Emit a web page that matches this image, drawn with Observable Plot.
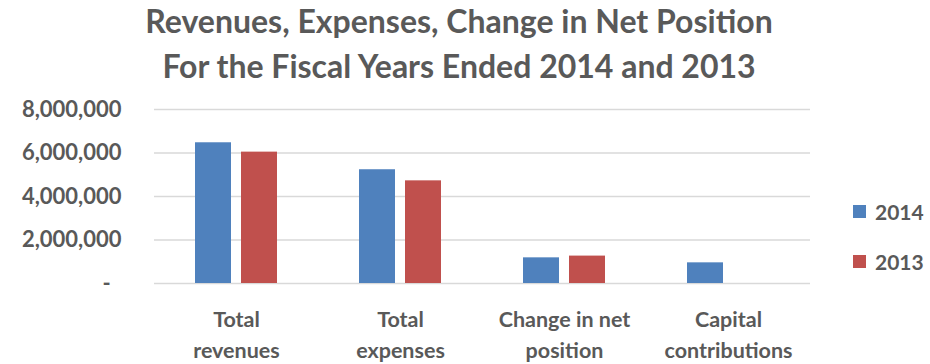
<!DOCTYPE html>
<html>
<head>
<meta charset="utf-8">
<script src="https://cdn.jsdelivr.net/npm/d3@7"></script>
<script src="https://cdn.jsdelivr.net/npm/@observablehq/plot@0.6"></script>
<style>
  html, body { margin: 0; padding: 0; background: #fff; }
  #wrap { position: relative; width: 930px; height: 364px; font-family: Lato, "Open Sans", sans-serif; color: #595959; }
  #title { position: absolute; left: 0; top: -2px; width: 918px; text-align: center; font-weight: bold; font-size: 32px; line-height: 45px; }
  #chart { position: absolute; left: 0; top: 92px; }
  #legend { position: absolute; left: 853px; top: 198px; font-weight: bold; font-size: 21px; }
  .item { display: flex; align-items: center; height: 27px; margin-bottom: 23px; }
  .sw { width: 13px; height: 13px; margin-right: 9px; }
</style>
</head>
<body>
<div id="wrap">
  <div id="title">Revenues, Expenses, Change in Net Position<br>For the Fiscal Years Ended 2014 and 2013</div>
  <div id="chart"></div>
  <div id="legend"></div>
</div>
<script>
const categories = ["Total revenues", "Total expenses", "Change in net position", "Capital contributions"];
const categoryLabels = ["Total\nrevenues", "Total\nexpenses", "Change in net\nposition", "Capital\ncontributions"];
const series = ["2014", "2013"];
const colors = ["#4f81bd", "#c0504d"];
const values2014 = [6470000, 5230000, 1180000, 950000];
const values2013 = [6040000, 4720000, 1260000, null];
const yTicks = [0, 2000000, 4000000, 6000000, 8000000];

const data = [];
categories.forEach((c, i) => {
  if (values2014[i] != null) data.push({category: c, year: "2014", value: values2014[i]});
  if (values2013[i] != null) data.push({category: c, year: "2013", value: values2013[i]});
});

const labelOf = new Map(categories.map((c, i) => [c, categoryLabels[i]]));
const fmt = d3.format(",");

const chart = Plot.plot({
  width: 930,
  height: 272,
  marginLeft: 153,
  marginRight: 120,
  marginTop: 17,
  marginBottom: 81,
  style: { fontFamily: "Lato, 'Open Sans', sans-serif", color: "#595959", background: "#fff" },
  fx: { domain: categories, padding: 0, axis: null, label: null },
  x: { domain: series, paddingInner: 0.213, paddingOuter: 0.854, axis: null },
  y: { domain: [0, 8000000], axis: null },
  color: { domain: series, range: colors },
  marks: [
    Plot.gridY(yTicks, { stroke: "#d9d9d9", strokeOpacity: 1, strokeWidth: 1.3 }),
    Plot.axisY(yTicks, {
      tickSize: 0, tickPadding: 33,
      tickFormat: d => d === 0 ? "-\u00a0\u00a0" : fmt(d),
      fontSize: 22, fontWeight: "bold", fill: "#595959", label: null
    }),
    Plot.barY(data, { fx: "category", x: "year", y: "value", fill: "year" }),
    Plot.axisFx({
      anchor: "bottom", tickSize: 0, tickPadding: 22, lineHeight: 1.42,
      tickFormat: d => labelOf.get(d),
      fontSize: 21.5, fontWeight: "bold", fill: "#595959", label: null
    })
  ]
});
document.getElementById("chart").appendChild(chart);

const legend = document.getElementById("legend");
series.forEach((s, i) => {
  const item = document.createElement("div");
  item.className = "item";
  const sw = document.createElement("div");
  sw.className = "sw";
  sw.style.background = colors[i];
  const t = document.createElement("span");
  t.textContent = s;
  item.appendChild(sw);
  item.appendChild(t);
  legend.appendChild(item);
});
</script>
</body>
</html>
